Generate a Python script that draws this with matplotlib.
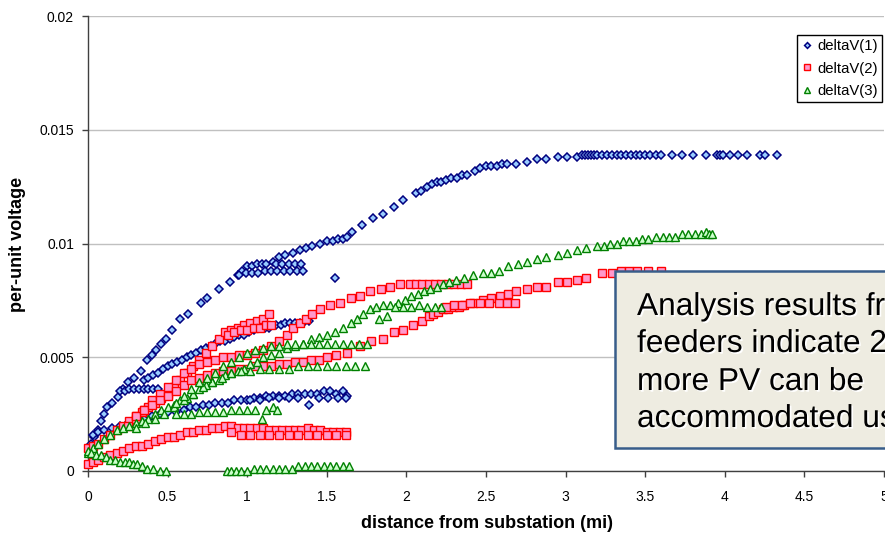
import matplotlib
matplotlib.use("Agg")
import matplotlib.pyplot as plt
from matplotlib.patches import Rectangle
import matplotlib.patheffects as pe

plt.rcParams['font.family'] = ['Liberation Sans', 'DejaVu Sans']

# ---------------- data: deltaV(1) (blue diamonds) ----------------
b1_x = [0.02, 0.04, 0.06, 0.08, 0.10, 0.12, 0.15, 0.19, 0.22, 0.25, 0.29, 0.33, 0.37, 0.40, 0.43, 0.46, 0.49,
        0.53, 0.58, 0.63, 0.71, 0.75, 0.82, 0.89, 0.94, 0.97, 1.00, 1.03, 1.06, 1.09, 1.12, 1.16, 1.20, 1.24,
        1.29, 1.33, 1.37, 1.41, 1.46, 1.50, 1.54, 1.57, 1.60, 1.63, 1.66, 1.72, 1.79, 1.85, 1.92, 1.98, 2.06,
        2.09, 2.13, 2.16, 2.19, 2.22, 2.25, 2.28, 2.32, 2.35, 2.38, 2.43, 2.46, 2.50, 2.53, 2.57, 2.60, 2.63,
        2.69, 2.76, 2.82, 2.88, 2.95, 3.01, 3.07, 3.10, 3.12, 3.14, 3.16, 3.18, 3.20, 3.23, 3.26, 3.29, 3.32,
        3.35, 3.38, 3.41, 3.44, 3.47, 3.50, 3.53, 3.57, 3.60, 3.67, 3.73, 3.80, 3.88, 3.95, 3.97, 3.99, 4.03,
        4.08, 4.14, 4.22, 4.25, 4.33]
b1_y = [0.0012, 0.0015, 0.0018, 0.0022, 0.0025, 0.0028, 0.0030, 0.00325, 0.0036, 0.0039, 0.0041, 0.0044,
        0.0049, 0.0051, 0.0053, 0.0056, 0.0058, 0.0062, 0.0067, 0.0069, 0.0074, 0.0076, 0.0080, 0.0083, 0.0086,
        0.0088, 0.0090, 0.0090, 0.0091, 0.0091, 0.0091, 0.0092, 0.0094, 0.0095, 0.0096, 0.0097, 0.0098, 0.0099,
        0.0100, 0.0101, 0.0101, 0.0102, 0.0102, 0.0103, 0.0105, 0.0108, 0.0111, 0.0113, 0.0116, 0.0119, 0.0122,
        0.0123, 0.0125, 0.0126, 0.0127, 0.0127, 0.0128, 0.0129, 0.0129, 0.0130, 0.0130, 0.0132, 0.0133, 0.0134,
        0.0134, 0.0134, 0.0135, 0.0135, 0.0135, 0.0136, 0.0137, 0.0137, 0.0138, 0.0138, 0.0138, 0.0139, 0.0139,
        0.0139, 0.0139, 0.0139, 0.0139, 0.0139, 0.0139, 0.0139, 0.0139, 0.0139, 0.0139, 0.0139, 0.0139, 0.0139,
        0.0139, 0.0139, 0.0139, 0.0139, 0.0139, 0.0139, 0.0139, 0.0139, 0.0139, 0.0139, 0.0139, 0.0139, 0.0139,
        0.0139, 0.0139, 0.0139, 0.0139]
b1_branch_x = [0.95, 0.99, 1.03, 1.07, 1.11, 1.15, 1.19, 1.23, 1.27, 1.31, 1.35, 1.55]
b1_branch_y = [0.0086, 0.0087, 0.0087, 0.0087, 0.0088, 0.0088, 0.0088, 0.0088, 0.0088, 0.0088, 0.0088, 0.0085]
b1_flat_x = [0.20, 0.23, 0.26, 0.29, 0.32, 0.35, 0.38, 0.41, 0.44, 1.18, 1.22, 1.26, 1.30, 1.34]
b1_flat_y = [0.0035, 0.0035, 0.0036, 0.0036, 0.0036, 0.0036, 0.0036, 0.0036, 0.0036,
             0.0091, 0.0091, 0.0091, 0.0091, 0.0091]
b2_x = [0.35, 0.38, 0.41, 0.44, 0.47, 0.50, 0.53, 0.56, 0.59, 0.62, 0.65, 0.68, 0.71, 0.74, 0.77, 0.80, 0.83,
        0.86, 0.89, 0.92, 0.95, 0.98, 1.01, 1.04, 1.08, 1.11, 1.14, 1.18, 1.21, 1.24, 1.27, 1.30, 1.33, 1.36, 1.39]
b2_y = [0.0040, 0.0041, 0.0042, 0.0043, 0.0045, 0.0046, 0.0047, 0.0048, 0.0049, 0.0050, 0.0051, 0.0052,
        0.0053, 0.0054, 0.0055, 0.0056, 0.0057, 0.0057, 0.0058, 0.0059, 0.0060, 0.0060, 0.0061, 0.0062,
        0.0063, 0.0063, 0.0063, 0.0064, 0.0064, 0.0065, 0.0065, 0.0065, 0.0065, 0.0066, 0.0066]
b3_x = [0.03, 0.06, 0.10, 0.15, 0.20, 0.25, 0.30, 0.35, 0.40, 0.45, 0.50, 0.55, 0.60, 0.64, 0.68, 0.72, 0.76,
        0.80, 0.84, 0.88, 0.92, 0.96, 1.00, 1.04, 1.08, 1.12, 1.16, 1.20, 1.24, 1.28, 1.32, 1.36, 1.40, 1.44,
        1.48, 1.52, 1.56, 1.60, 1.63]
b3_y = [0.0016, 0.0017, 0.0018, 0.0019, 0.0020, 0.0021, 0.0022, 0.0023, 0.0024, 0.0025, 0.0026, 0.0026,
        0.0027, 0.0028, 0.0028, 0.0029, 0.0029, 0.0030, 0.0030, 0.0030, 0.0031, 0.0031, 0.0031, 0.0032,
        0.0032, 0.0033, 0.0033, 0.0033, 0.0033, 0.0034, 0.0034, 0.0034, 0.0034, 0.0034, 0.0035, 0.0035,
        0.0034, 0.0035, 0.0033]
b3_low_x = [1.02, 1.08, 1.14, 1.20, 1.26, 1.32, 1.39, 1.45, 1.51, 1.57, 1.62]
b3_low_y = [0.0031, 0.0031, 0.0032, 0.0032, 0.0032, 0.0032, 0.0029, 0.0032, 0.0032, 0.0032, 0.0032]

# ---------------- data: deltaV(2) (red squares) ----------------
r1_x = [0.00, 0.03, 0.06, 0.10, 0.14, 0.18, 0.22, 0.26, 0.30, 0.34, 0.38, 0.42, 0.46, 0.50, 0.54, 0.58, 0.62,
        0.66, 0.70, 0.74, 0.78, 0.82, 0.86, 0.90, 0.94, 0.98, 1.02, 1.06, 1.10, 1.14]
r1_y = [0.0010, 0.0011, 0.0012, 0.0014, 0.0016, 0.0018, 0.0020, 0.0022, 0.0024, 0.0026, 0.0028, 0.0030,
        0.0032, 0.0034, 0.0037, 0.0040, 0.0043, 0.0046, 0.0049, 0.0052, 0.0055, 0.0058, 0.0061, 0.0062,
        0.0063, 0.0064, 0.0065, 0.0066, 0.0067, 0.0069]
r1_branch_x = [0.88, 0.92, 0.96, 1.00, 1.04, 1.08, 1.12, 1.15]
r1_branch_y = [0.0060, 0.0061, 0.0062, 0.0062, 0.0063, 0.0063, 0.0064, 0.0064]
r2_x = [0.25, 0.30, 0.35, 0.40, 0.45, 0.50, 0.55, 0.60, 0.65, 0.70, 0.75, 0.80, 0.85, 0.90, 0.95, 1.00, 1.05,
        1.10, 1.15, 1.20, 1.25, 1.29, 1.33, 1.37, 1.41, 1.46, 1.52, 1.58, 1.65, 1.71, 1.77, 1.84, 1.90, 1.96,
        2.02, 2.06, 2.10, 2.14, 2.18, 2.22, 2.26, 2.30, 2.34, 2.38]
r2_y = [0.0020, 0.0023, 0.0027, 0.0031, 0.0034, 0.0037, 0.0040, 0.0043, 0.0045, 0.0047, 0.0048, 0.0049,
        0.0050, 0.0050, 0.0051, 0.0051, 0.0052, 0.0053, 0.0055, 0.0057, 0.0060, 0.0063, 0.0065, 0.0067,
        0.0069, 0.0071, 0.0073, 0.0074, 0.0076, 0.0077, 0.0079, 0.0080, 0.0081, 0.0082, 0.0082, 0.0082,
        0.0082, 0.0082, 0.0082, 0.0082, 0.0082, 0.0082, 0.0082, 0.0082]
r3_x = [0.30, 0.35, 0.40, 0.45, 0.50, 0.55, 0.60, 0.65, 0.70, 0.75, 0.80, 0.85, 0.90, 0.95, 1.00, 1.05, 1.10,
        1.15, 1.20, 1.25, 1.30, 1.35, 1.40, 1.45, 1.50, 1.56, 1.63, 1.71, 1.78, 1.85, 1.92, 1.98, 2.04, 2.10,
        2.14, 2.17, 2.20, 2.23, 2.26, 2.29, 2.33, 2.36, 2.42, 2.48, 2.53, 2.59, 2.64, 2.69, 2.76, 2.82, 2.88,
        2.95, 3.01, 3.07, 3.13, 3.23, 3.29, 3.35, 3.40, 3.45, 3.52, 3.60]
r3_y = [0.0024, 0.0027, 0.0029, 0.0031, 0.0033, 0.0035, 0.0038, 0.0040, 0.0041, 0.0042, 0.0043, 0.0044,
        0.0044, 0.0045, 0.0045, 0.0046, 0.0046, 0.0046, 0.0047, 0.0047, 0.0048, 0.0048, 0.0049, 0.0049,
        0.0050, 0.0051, 0.0052, 0.0055, 0.0057, 0.0058, 0.0061, 0.0062, 0.0064, 0.0066, 0.0068, 0.0069,
        0.0070, 0.0071, 0.0071, 0.0072, 0.0072, 0.0073, 0.0074, 0.0075, 0.0076, 0.0077, 0.0078, 0.0079,
        0.0080, 0.0081, 0.0081, 0.0083, 0.0083, 0.0084, 0.0085, 0.0087, 0.0087, 0.0088, 0.0088, 0.0088,
        0.0088, 0.0088]
r3_flat_x = [2.25, 2.30, 2.35, 2.40, 2.46, 2.52, 2.58, 2.63, 2.68]
r3_flat_y = [0.0072, 0.0073, 0.0073, 0.0074, 0.0074, 0.0074, 0.0074, 0.0074, 0.0074]
r4_x = [0.00, 0.03, 0.06, 0.10, 0.14, 0.18, 0.22, 0.26, 0.30, 0.34, 0.38, 0.42, 0.46, 0.50, 0.54, 0.58, 0.62,
        0.66, 0.70, 0.74, 0.78, 0.82, 0.86, 0.90, 0.94, 0.98, 1.02, 1.06, 1.10, 1.14, 1.18, 1.22, 1.26, 1.30,
        1.34, 1.38, 1.42, 1.46, 1.50, 1.54, 1.58, 1.62]
r4_y = [0.0003, 0.0004, 0.0005, 0.0006, 0.0007, 0.0008, 0.0009, 0.0010, 0.0011, 0.0011, 0.0012, 0.0013,
        0.0014, 0.0015, 0.0015, 0.0016, 0.0017, 0.0017, 0.0018, 0.0018, 0.0019, 0.0019, 0.0020, 0.0020,
        0.0019, 0.0019, 0.0019, 0.0019, 0.0019, 0.0018, 0.0018, 0.0018, 0.0018, 0.0018, 0.0018, 0.0019,
        0.0018, 0.0018, 0.0017, 0.0017, 0.0017, 0.0017]
r4_low_x = [0.90, 0.96, 1.02, 1.08, 1.14, 1.20, 1.26, 1.32, 1.38, 1.44, 1.50, 1.56, 1.62]
r4_low_y = [0.0017, 0.0016, 0.0016, 0.0016, 0.0016, 0.0016, 0.0016, 0.0016, 0.0016, 0.0016, 0.0016,
            0.0016, 0.0016]

# ---------------- data: deltaV(3) (green triangles) ----------------
g1_x = [0.00, 0.03, 0.06, 0.10, 0.14, 0.18, 0.22, 0.26, 0.30, 0.34, 0.38, 0.42, 0.46, 0.50, 0.54, 0.58, 0.62,
        0.66, 0.70, 0.74, 0.78, 0.82, 0.86, 0.90, 0.94, 0.98, 1.02, 1.06, 1.10, 1.15, 1.20, 1.25, 1.30, 1.35,
        1.40, 1.45, 1.50, 1.55, 1.60, 1.65, 1.69, 1.73, 1.77, 1.81, 1.85, 1.90, 1.95, 1.99, 2.03, 2.07, 2.11,
        2.15, 2.19, 2.23, 2.27, 2.31, 2.36, 2.42, 2.48, 2.53, 2.58, 2.64, 2.70, 2.76, 2.82, 2.88, 2.95, 3.01,
        3.07, 3.13, 3.20, 3.24, 3.28, 3.32, 3.36, 3.40, 3.44, 3.48, 3.52, 3.57, 3.61, 3.65, 3.69, 3.73, 3.77,
        3.81, 3.85, 3.88, 3.90, 3.92]
g1_y = [0.0008, 0.0010, 0.0012, 0.0014, 0.0016, 0.0018, 0.0019, 0.0020, 0.0021, 0.0022, 0.0023, 0.0025,
        0.0027, 0.0028, 0.0029, 0.0031, 0.0032, 0.0034, 0.0036, 0.0038, 0.0039, 0.0040, 0.0042, 0.0043,
        0.0044, 0.0045, 0.0047, 0.0048, 0.0050, 0.0051, 0.0052, 0.0054, 0.0055, 0.0056, 0.0058, 0.0059,
        0.0060, 0.0061, 0.0063, 0.0065, 0.0067, 0.0069, 0.0071, 0.0072, 0.0073, 0.0073, 0.0074, 0.0075,
        0.0077, 0.0078, 0.0079, 0.0080, 0.0081, 0.0082, 0.0083, 0.0084, 0.0085, 0.0086, 0.0087, 0.0087,
        0.0088, 0.0090, 0.0091, 0.0092, 0.0093, 0.0094, 0.0095, 0.0096, 0.0097, 0.0098, 0.0099, 0.0099,
        0.0100, 0.0100, 0.0101, 0.0101, 0.0101, 0.0102, 0.0102, 0.0103, 0.0103, 0.0103, 0.0103, 0.0104,
        0.0104, 0.0104, 0.0104, 0.0105, 0.0104, 0.0104]
g1_flat_x = [1.83, 1.88, 1.93, 1.98, 2.03, 2.08, 2.13, 2.18, 2.22]
g1_flat_y = [0.0067, 0.0068, 0.0072, 0.0072, 0.0072, 0.0073, 0.0072, 0.0072, 0.0072]
g2_x = [0.30, 0.36, 0.42, 0.48, 0.54, 0.60, 0.66, 0.72, 0.78, 0.84, 0.90, 0.96, 1.02, 1.08, 1.14, 1.20, 1.26,
        1.32, 1.38, 1.44, 1.50, 1.56, 1.62, 1.68, 1.74]
g2_y = [0.0019, 0.0021, 0.0023, 0.0025, 0.0028, 0.0031, 0.0034, 0.0037, 0.0039, 0.0041, 0.0043, 0.0044,
        0.0044, 0.0045, 0.0045, 0.0045, 0.0045, 0.0046, 0.0046, 0.0046, 0.0046, 0.0046, 0.0046, 0.0046, 0.0046]
g3_x = [0.55, 0.60, 0.65, 0.70, 0.75, 0.80, 0.85, 0.90, 0.95, 1.00, 1.05, 1.10, 1.15, 1.20, 1.25, 1.30, 1.35,
        1.40, 1.45, 1.50, 1.55, 1.60, 1.65, 1.70, 1.75]
g3_y = [0.0030, 0.0033, 0.0036, 0.0039, 0.0041, 0.0043, 0.0046, 0.0048, 0.0050, 0.0052, 0.0053, 0.0054,
        0.0055, 0.0055, 0.0056, 0.0056, 0.0056, 0.0056, 0.0056, 0.0056, 0.0056, 0.0056, 0.0056, 0.0056, 0.0056]
g4_x = [0.55, 0.60, 0.65, 0.70, 0.75, 0.80, 0.85, 0.90, 0.95, 1.00, 1.05, 1.09, 1.12, 1.16, 1.19]
g4_y = [0.0025, 0.0025, 0.0025, 0.0026, 0.0026, 0.0026, 0.0026, 0.0027, 0.0027, 0.0027, 0.0027, 0.0023,
        0.0027, 0.0028, 0.0027]
g5_x = [0.00, 0.02, 0.05, 0.08, 0.11, 0.14, 0.17, 0.20, 0.23, 0.26, 0.28, 0.31, 0.34, 0.37, 0.41, 0.45, 0.49]
g5_y = [0.0009, 0.0008, 0.0007, 0.0007, 0.0006, 0.0005, 0.0005, 0.0004, 0.0004, 0.0004, 0.0003, 0.0003,
        0.0002, 0.0001, 0.0001, 0.0000, 0.0000]
g6_x = [0.87, 0.90, 0.93, 0.96, 1.00, 1.04, 1.08, 1.12, 1.16, 1.20, 1.24, 1.28, 1.32, 1.36, 1.40, 1.44, 1.48,
        1.52, 1.56, 1.60, 1.64]
g6_y = [0.0000, 0.0000, 0.0000, 0.0000, 0.0000, 0.0001, 0.0001, 0.0001, 0.0001, 0.0001, 0.0001, 0.0001,
        0.0002, 0.0002, 0.0002, 0.0002, 0.0002, 0.0002, 0.0002, 0.0002, 0.0002]

series_names = ["deltaV(1)", "deltaV(2)", "deltaV(3)"]
x_ticks = [0, 0.5, 1, 1.5, 2, 2.5, 3, 3.5, 4, 4.5, 5]
x_ticklabels = ["0", "0.5", "1", "1.5", "2", "2.5", "3", "3.5", "4", "4.5", "5"]
y_ticks = [0, 0.005, 0.01, 0.015, 0.02]
y_ticklabels = ["0", "0.005", "0.01", "0.015", "0.02"]
note_lines = ["Analysis results fr", "feeders indicate 2", "more PV can be", "accommodated us"]

W, H = 885, 535
fig = plt.figure(figsize=(W / 100, H / 100), dpi=100)
ax = fig.add_axes([88 / W, (H - 471) / H, (884 - 88) / W, (471 - 16) / H])

blue = dict(marker='D', ms=3.7, mfc='#99CCFF', mec='#000080', mew=1.1, ls='none', clip_on=False, zorder=3)
red = dict(marker='s', ms=5.8, mfc='#FF99CC', mec='#FF0000', mew=1.0, ls='none', clip_on=False, zorder=3)
green = dict(marker='^', ms=6.0, mfc='#CCFFCC', mec='#008000', mew=1.0, ls='none', clip_on=False, zorder=3)

h1, = ax.plot(b1_x, b1_y, label=series_names[0], **blue)
for xs, ys in [(b1_branch_x, b1_branch_y), (b1_flat_x, b1_flat_y), (b2_x, b2_y), (b3_x, b3_y),
               (b3_low_x, b3_low_y)]:
    ax.plot(xs, ys, **blue)
h2, = ax.plot(r1_x, r1_y, label=series_names[1], **red)
for xs, ys in [(r1_branch_x, r1_branch_y), (r2_x, r2_y), (r3_x, r3_y), (r3_flat_x, r3_flat_y),
               (r4_x, r4_y), (r4_low_x, r4_low_y)]:
    ax.plot(xs, ys, **red)
h3, = ax.plot(g1_x, g1_y, label=series_names[2], **green)
for xs, ys in [(g1_flat_x, g1_flat_y), (g2_x, g2_y), (g3_x, g3_y), (g4_x, g4_y), (g5_x, g5_y),
               (g6_x, g6_y)]:
    ax.plot(xs, ys, **green)

ax.set_xlim(0, 5)
ax.set_ylim(0, 0.02)
ax.set_xticks(x_ticks)
ax.set_xticklabels(x_ticklabels)
ax.set_yticks(y_ticks)
ax.set_yticklabels(y_ticklabels)
ax.grid(axis='y', color='#C0C0C0', lw=1.0, zorder=0)
ax.set_axisbelow(True)
for s in ['top', 'right']:
    ax.spines[s].set_visible(False)
for s in ['left', 'bottom']:
    ax.spines[s].set_color('#404040')
    ax.spines[s].set_linewidth(1.0)
ax.tick_params(axis='both', direction='out', length=4, width=1, color='#404040',
               labelsize=10, labelcolor='black')
ax.tick_params(axis='x', pad=10)
ax.tick_params(axis='y', pad=6)

fig.text(18 / W, 1 - 244 / H, "per-unit voltage", rotation=90, ha='center', va='center',
         fontsize=13, fontweight='bold')
fig.text(487 / W, 1 - 523 / H, "distance from substation (mi)", ha='center', va='center',
         fontsize=13, fontweight='bold')

leg = fig.legend(handles=[h1, h2, h3], loc='upper right', bbox_to_anchor=(882 / W, 1 - 35 / H),
                 fontsize=10.7, frameon=True, fancybox=False, edgecolor='black', framealpha=1,
                 handlelength=0.7, handletextpad=0.35, borderpad=0.3, labelspacing=0.55,
                 borderaxespad=0, markerscale=0.8)
leg.get_frame().set_linewidth(1.0)

box = Rectangle((615 / W, 1 - 448 / H), 0.5, (448 - 271) / H, transform=fig.transFigure,
                facecolor='#EEECE1', edgecolor='#385D8A', lw=1.8, zorder=5)
fig.patches.append(box)
baselines = [315, 352, 390, 427]
for line, yb in zip(note_lines, baselines):
    fig.text(637 / W, 1 - yb / H, line, ha='left', va='baseline', fontsize=22.8, color='black', zorder=6,
             path_effects=[pe.withSimplePatchShadow(offset=(1.2, -1.2), shadow_rgbFace='white', alpha=1.0)])

fig.savefig("out.png", dpi=100)
